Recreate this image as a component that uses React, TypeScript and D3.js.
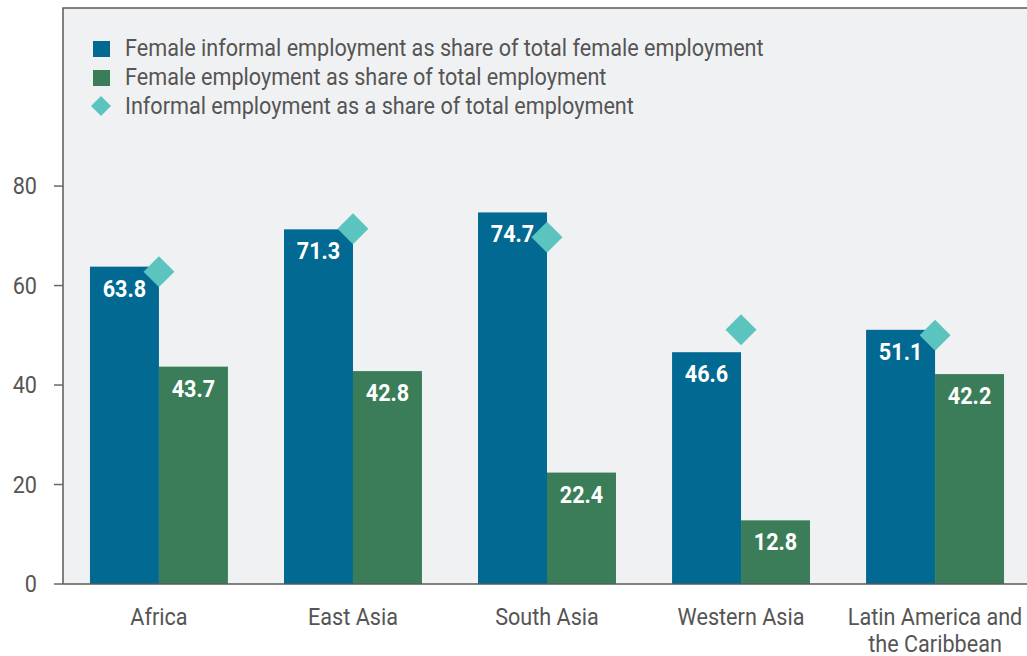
import { useRef, useEffect } from 'react';
import * as d3 from 'd3';

const regions = ['Africa', 'East Asia', 'South Asia', 'Western Asia', 'Latin America and the Caribbean'];
const regionLines = [['Africa'], ['East Asia'], ['South Asia'], ['Western Asia'], ['Latin America and', 'the Caribbean']];
const femaleInformalShare = [63.8, 71.3, 74.7, 46.6, 51.1];
const femaleEmploymentShare = [43.7, 42.8, 22.4, 12.8, 42.2];
const informalShare = [62.8, 71.4, 69.7, 51.1, 50.0];
const yTicks = [0, 20, 40, 60, 80];
const legendLabels = [
  'Female informal employment as share of total female employment',
  'Female employment as share of total employment',
  'Informal employment as a share of total employment',
];

const BLUE = '#016992';
const GREEN = '#3a7d58';
const TEAL = '#5bc4bf';
const TEXT = '#555555';
const FONT = 'Roboto, sans-serif';
const SX = 0.94; // squeeze to mimic a condensed face

export default function App() {
  const svgRef = useRef<SVGSVGElement>(null);

  useEffect(() => {
    if (!svgRef.current) return;
    const svg = d3.select(svgRef.current);
    svg.selectAll('*').remove();

    const width = 1027;
    const left = 63;
    const top = 8;
    const bottom = 584;

    const x = d3.scaleBand<string>().domain(regions).range([left, 1031]).paddingInner(0.289).paddingOuter(0.139);
    const y = d3.scaleLinear().domain([0, 115.8]).range([bottom, top]);
    const half = x.bandwidth() / 2;

    const label = (
      g: d3.Selection<any, unknown, null, undefined>,
      tx: number,
      ty: number,
      txt: string,
      anchor: string,
      opts: { fill?: string; weight?: string; size?: number } = {}
    ) =>
      g
        .append('text')
        .attr('transform', `translate(${tx},${ty}) scale(${SX},1)`)
        .attr('text-anchor', anchor)
        .attr('font-family', FONT)
        .attr('font-size', opts.size ?? 23)
        .attr('font-weight', opts.weight ?? 'normal')
        .attr('fill', opts.fill ?? TEXT)
        .text(txt);

    // plot background + frame
    svg.append('rect').attr('x', left).attr('y', top).attr('width', width - left).attr('height', bottom - top).attr('fill', '#f0f1f3');
    svg.append('path')
      .attr('d', `M${left},${bottom} V${top} H${width}`)
      .attr('fill', 'none').attr('stroke', '#5a5a5a').attr('stroke-width', 1.5);

    // y ticks
    yTicks.forEach((t) => {
      svg.append('line').attr('x1', 54).attr('x2', left).attr('y1', y(t)).attr('y2', y(t)).attr('stroke', '#666').attr('stroke-width', 1.5);
      label(svg as any, 37, y(t) + 8, String(t), 'end');
    });

    // bars
    const g = svg.append('g');
    regions.forEach((r, i) => {
      const x0 = x(r)!;
      g.append('rect').attr('x', x0).attr('y', y(femaleInformalShare[i])).attr('width', half).attr('height', y(0) - y(femaleInformalShare[i])).attr('fill', BLUE);
      g.append('rect').attr('x', x0 + half).attr('y', y(femaleEmploymentShare[i])).attr('width', half).attr('height', y(0) - y(femaleEmploymentShare[i])).attr('fill', GREEN);
      label(g as any, x0 + half / 2, y(femaleInformalShare[i]) + 30, femaleInformalShare[i].toFixed(1), 'middle', { fill: '#fff', weight: 'bold' });
      label(g as any, x0 + half * 1.5, y(femaleEmploymentShare[i]) + 30, femaleEmploymentShare[i].toFixed(1), 'middle', { fill: '#fff', weight: 'bold' });
    });

    // diamonds
    const diamond = d3.symbol().type(d3.symbolSquare).size(480);
    regions.forEach((r, i) => {
      g.append('path')
        .attr('d', diamond()!)
        .attr('transform', `translate(${x(r)! + half},${y(informalShare[i])}) rotate(45)`)
        .attr('fill', TEAL);
    });

    // x axis line
    svg.append('line').attr('x1', left).attr('x2', width).attr('y1', bottom).attr('y2', bottom).attr('stroke', '#5a5a5a').attr('stroke-width', 1.5);

    // x labels
    regionLines.forEach((lines, i) => {
      lines.forEach((ln, j) => {
        label(svg as any, x(regions[i])! + half, 625 + j * 27, ln, 'middle');
      });
    });

    // legend
    const lg = svg.append('g');
    const colors = [BLUE, GREEN];
    legendLabels.forEach((t, i) => {
      const cy = 49 + i * 29;
      if (i < 2) {
        lg.append('rect').attr('x', 93).attr('y', cy - 8).attr('width', 17).attr('height', 16).attr('fill', colors[i]);
      } else {
        lg.append('path').attr('d', d3.symbol().type(d3.symbolSquare).size(200)()!).attr('transform', `translate(101,${cy - 1}) rotate(45)`).attr('fill', TEAL);
      }
      label(lg as any, 125, cy + 7, t, 'start');
    });
  }, []);

  return (
    <svg ref={svgRef} width={1027} height={656} style={{ position: 'absolute', left: 0, top: 0, background: '#fff' }} />
  );
}
